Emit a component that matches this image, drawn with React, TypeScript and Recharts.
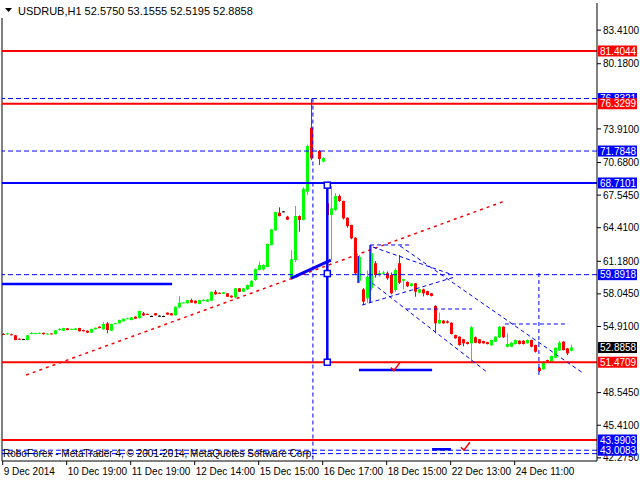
import React from 'react';
import { ComposedChart, Bar, XAxis, YAxis, ReferenceLine, ReferenceDot } from 'recharts';

// ---- candle data (bar index, open, high, low, close) ----
const barIndex = [
  0,1,2,3,4,5,6,7,8,9,10,11,12,13,14,15,16,17,18,19,20,21,22,23,24,25,26,27,28,29,30,31,32,33,34,35,36,37,38,39,
  40,41,42,43,44,45,46,47,48,49,50,51,52,53,54,55,56,57,58,59,60,61,62,63,64,65,66,67,68,69,70,71,72,73,74,75,76,77,
  79,80,81,82,83,84,85,86,87,88,89,90,91,92,93,94,95,96,97,98,99,100,101,102,103,104,105,106,107,108,109,110,111,112,
  113,114,115,116,117,118,119,120,121,122,123,124,125,126,127,128,129,130,131,132,133,134,135,136,137,138,139,140,141,142,
];
const opens = [
  54.20,54.15,54.16,54.06,53.73,53.70,53.61,54.22,54.22,54.22,54.30,54.18,54.24,54.16,54.60,54.50,54.73,54.63,54.58,54.76,
  54.57,54.50,54.31,54.64,54.89,54.64,55.21,54.50,55.18,55.21,55.40,55.62,55.53,55.85,55.70,56.18,56.12,55.92,56.18,55.95,
  55.92,56.24,56.18,55.98,56.75,57.18,57.14,57.45,57.39,57.07,57.40,57.30,57.39,58.25,58.15,58.05,58.10,57.87,57.71,58.58,
  58.25,58.48,58.73,59.38,60.34,60.40,60.63,62.74,64.16,65.85,65.98,65.47,59.64,61.30,65.53,65.15,67.87,74.03,
  71.79,70.76,66.76,65.63,66.11,67.46,66.98,65.37,64.67,63.44,59.30,58.48,57.62,58.58,60.99,59.95,60.00,60.03,59.86,58.42,
  60.99,59.30,59.20,58.80,59.06,58.16,58.48,58.31,58.10,56.88,55.21,55.47,55.40,55.27,
  54.09,53.93,53.68,53.40,53.29,53.87,53.68,53.51,53.40,53.10,53.45,53.87,54.89,52.96,52.96,53.22,53.54,53.54,53.29,53.61,
  53.13,50.95,50.79,51.68,51.52,51.90,52.60,53.45,52.80,52.575,
];
const highs = [
  54.26,54.30,54.22,54.10,53.76,53.72,54.10,54.38,54.30,54.33,54.32,54.26,54.27,54.56,54.76,54.78,54.76,54.70,54.75,54.78,
  54.60,54.53,54.70,54.82,54.92,55.34,55.34,55.18,55.26,55.56,55.68,55.73,55.82,55.88,56.42,56.30,56.14,55.94,56.20,55.97,
  55.94,56.26,56.20,56.84,57.84,57.25,57.48,57.58,57.41,57.48,57.55,57.53,58.28,58.42,58.18,58.23,58.12,57.90,58.62,58.60,
  58.62,58.95,59.35,60.50,61.15,60.90,62.90,64.30,65.95,66.37,66.00,65.55,62.26,66.50,65.60,68.30,72.40,76.8321,
  71.88,71.20,67.00,68.42,67.75,67.60,67.00,65.40,64.70,63.50,61.80,58.60,60.30,62.74,61.20,60.30,60.25,60.20,60.10,60.50,
  61.78,59.50,59.25,59.10,59.10,58.52,58.55,58.35,58.14,56.95,56.24,55.52,55.50,55.30,
  54.12,53.96,53.72,53.45,54.95,53.95,53.72,53.55,53.44,53.65,53.96,54.92,54.92,54.25,53.40,53.65,53.58,53.58,53.65,53.65,
  53.16,51.00,51.56,51.72,52.10,52.90,53.50,53.50,52.85,53.1555,
];
const lows = [
  54.12,54.10,54.05,53.58,53.64,53.68,53.58,54.15,54.18,54.20,54.12,54.14,54.17,54.14,54.50,54.48,54.55,54.60,54.55,54.43,
  54.42,54.28,54.29,54.60,54.73,54.57,54.25,54.48,55.15,55.18,55.38,55.60,55.50,55.63,55.68,55.92,56.04,55.90,55.96,55.93,
  55.90,56.03,55.96,55.96,56.66,57.15,57.12,57.18,57.12,57.05,57.35,57.28,57.37,57.95,58.02,58.02,57.75,57.68,57.60,58.22,
  58.22,58.40,58.70,59.30,60.30,60.30,60.60,62.70,64.10,65.50,65.96,65.15,59.60,61.10,64.02,65.10,67.55,70.90,
  70.44,70.70,65.50,61.30,66.00,66.90,65.20,64.40,63.30,59.90,59.10,56.97,57.20,58.40,59.60,59.70,59.85,59.40,58.00,58.20,
  59.00,58.48,58.70,58.75,57.77,58.10,57.80,57.90,57.80,54.25,55.15,55.18,55.20,54.15,
  53.74,53.05,53.00,53.18,51.45,53.30,53.26,53.26,53.18,53.05,53.40,53.80,53.80,52.90,52.92,53.18,53.18,53.18,53.25,52.90,
  52.40,50.53,50.75,51.48,51.48,51.85,52.55,52.60,52.15,52.5195,
];
const closes = [
  54.17,54.25,54.08,53.61,53.67,53.70,54.06,54.28,54.27,54.30,54.17,54.22,54.20,54.54,54.66,54.76,54.57,54.68,54.72,54.45,
  54.45,54.31,54.68,54.79,54.76,55.15,54.57,55.15,55.23,55.53,55.66,55.70,55.79,55.66,56.40,55.98,56.06,55.92,55.98,55.95,
  55.92,56.05,55.98,56.81,57.20,57.22,57.45,57.20,57.14,57.45,57.47,57.51,58.25,58.00,58.05,58.20,57.77,57.71,58.58,58.25,
  58.58,58.90,59.31,60.44,60.82,60.82,62.84,64.25,65.92,65.53,65.98,65.18,61.37,65.53,65.15,68.16,72.27,71.08,
  71.02,71.11,65.63,66.27,67.46,66.98,65.31,64.57,63.39,60.02,61.60,57.30,59.70,61.95,59.86,60.05,60.10,59.54,58.10,60.34,
  59.12,59.45,58.78,59.05,58.25,58.48,58.10,57.94,57.84,55.21,55.53,55.21,55.27,54.19,
  53.77,53.13,53.29,53.22,54.83,53.35,53.29,53.29,53.22,53.61,53.93,54.89,53.87,53.22,53.35,53.61,53.22,53.22,53.61,52.96,
  52.48,50.63,51.52,51.52,52.07,52.86,53.35,52.64,52.32,52.8858,
];

// ---- axes ----
const xDomain = [-0.425, 148.325];
const yDomain = [41.971, 86.021];
const xTickValues = [-0.25, 15.75, 31.75, 47.75, 63.75, 79.75, 95.75, 111.75, 127.75];
const xTickLabels = ['9 Dec 2014', '10 Dec 19:00', '11 Dec 19:00', '12 Dec 14:00', '15 Dec 15:00', '16 Dec 17:00', '18 Dec 15:00', '22 Dec 13:00', '24 Dec 11:00'];
const yTickValues = [83.41, 80.18, 73.91, 70.68, 67.545, 64.41, 61.18, 58.045, 54.91, 48.545, 45.41, 42.275];

// ---- price level labels on the right axis (drawn in this order) ----
const levelValues = [76.8321, 76.3299, 81.4044, 71.7848, 68.7101, 59.8918, 52.8858, 51.4709, 43.9903, 43.0083];
const levelColors = ['#0000ff', '#ff0000', '#ff0000', '#0000ff', '#0000ff', '#0000ff', '#000000', '#ff0000', '#0000ff', '#0000ff'];

// ---- horizontal levels ----
const redLevels = [81.4044, 76.3299, 51.4709, 43.9903];
const blueSolidLevels = [68.7101];
const blueDashedLevels = [76.8321, 71.7848, 59.8918, 43.0083, 42.68];

// ---- drawn objects, in (bar index, price) ----
const redTrend = [[5.6, 50.24], [125.3, 66.98]];
const blueLeftLevel = [[-0.425, 58.99], [42.1, 58.99]];
const blueRise = [[71.8, 59.54], [81.8, 61.30]];
const blueTarget = [[80.9, 68.5], [80.9, 51.4709]];
const targetSquares = [[80.9, 68.5], [80.9, 60.0], [80.9, 51.4709]];
const peakMarker = [[77.3, 76.8321], [77.3, 42.1]];
const dashedSegments = [
  [[91.6, 62.75], [102.1, 62.75]],
  [[92.3, 62.55], [111.6, 59.96]],
  [[89.6, 56.97], [112.8, 59.67]],
  [[99.1, 62.65], [144.8, 50.43]],
  [[92.1, 59.09], [120.8, 50.53]],
  [[100.6, 56.59], [117.1, 56.59]],
  [[125.3, 55.15], [141.1, 55.15]],
  [[133.8, 50.24], [133.8, 60.05]],
];
const blueBrackets = [
  [[88.6, 59.09], [88.6, 61.69]],
  [[91.6, 57.17], [91.6, 62.75]],
];
const blueTargetShort = [[88.8, 50.72], [107.1, 50.72]];
const blueTargetLow = [[107.1, 43.1], [111.8, 43.1]];
const checkMarks = [[97.8, 50.95], [115.3, 43.3]];

const candles = barIndex.map((i, k) => ({ i, o: opens[k], h: highs[k], l: lows[k], c: closes[k] }));

const FONT = '"Liberation Sans", Arial, sans-serif';

const Candle = (props: any) => {
  const { x, y, width, height, payload } = props;
  if (payload == null) return null;
  const { o, h, l, c } = payload;
  const top = Math.min(y, y + height);
  const hh = Math.abs(height);
  const per = h - l > 0 ? hh / (h - l) : 0;
  const yO = top + (h - o) * per;
  const yC = top + (h - c) * per;
  const color = c > o ? '#00ff00' : c < o ? '#ff0000' : '#000000';
  const cx = Math.round(x + width / 2);
  const bTop = Math.min(yO, yC);
  const bH = Math.max(1, Math.abs(yC - yO));
  return (
    <g>
      <rect x={cx} y={top} width={1} height={Math.max(1, hh)} fill={color} />
      <rect x={cx - 1} y={bTop} width={3} height={bH} fill={color} />
    </g>
  );
};

const YTick = (props: any) => {
  const { x, y, payload } = props;
  const v = payload.value as number;
  const li = levelValues.indexOf(v);
  if (li >= 0) {
    return (
      <g>
        <rect x={x + 1} y={y - 5.5} width={39} height={11} fill={levelColors[li]} />
        <text x={x + 3} y={y} dy="0.36em" fill="#ffffff" fontSize={10} fontFamily={FONT}>{v.toFixed(4)}</text>
      </g>
    );
  }
  return (
    <g>
      <line x1={x} x2={x + 4} y1={y} y2={y} stroke="#000" />
      <text x={x + 6} y={y} dy="0.36em" fill="#000" fontSize={10} fontFamily={FONT}>{v.toFixed(4)}</text>
    </g>
  );
};

const XTick = (props: any) => {
  const { x, y, payload } = props;
  const k = xTickValues.indexOf(payload.value);
  return (
    <g>
      <line x1={x} x2={x} y1={y} y2={y + 4} stroke="#000" />
      <text x={x + 1} y={y + 14} fill="#000" fontSize={10} fontFamily={FONT}>{k >= 0 ? xTickLabels[k] : ''}</text>
    </g>
  );
};

const Square = (props: any) => {
  const { cx, cy } = props;
  return <rect x={cx - 3} y={cy - 3} width={6} height={6} fill="#ffffff" stroke="#0000ff" strokeWidth={1.5} />;
};

const Check = (props: any) => {
  const { cx, cy } = props;
  return <path d={`M${cx - 4},${cy} L${cx - 1},${cy + 3} L${cx + 5},${cy - 5}`} fill="none" stroke="#ff0000" strokeWidth={1.5} />;
};

const seg = (s: number[][]) => [{ x: s[0][0], y: s[0][1] }, { x: s[1][0], y: s[1][1] }];

export default function App() {
  return (
    <div style={{ position: 'absolute', left: 0, top: 0, width: 640, height: 480, background: '#fff' }}>
      <ComposedChart width={640} height={480} data={candles} margin={{ top: 3, right: 0, bottom: 0, left: 2 }}>
        <XAxis
          dataKey="i"
          type="number"
          domain={xDomain}
          allowDataOverflow
          ticks={xTickValues}
          interval={0}
          height={19}
          tickSize={0}
          tickMargin={0}
          tickLine={false}
          axisLine={{ stroke: '#000' }}
          tick={<XTick />}
        />
        <YAxis
          orientation="right"
          type="number"
          domain={yDomain}
          allowDataOverflow
          ticks={[...yTickValues, ...levelValues]}
          interval={0}
          width={43}
          tickSize={0}
          tickMargin={0}
          tickLine={false}
          axisLine={{ stroke: '#000' }}
          tick={<YTick />}
        />
        <ReferenceLine x={xDomain[0]} stroke="#000" ifOverflow="visible" />
        <Bar dataKey={(d: any) => [d.l, d.h]} barSize={3} shape={<Candle />} isAnimationActive={false} />

        {blueDashedLevels.map((v) => (
          <ReferenceLine key={'bd' + v} y={v} stroke="#0000ff" strokeDasharray="5 3" />
        ))}
        {redLevels.map((v) => (
          <ReferenceLine key={'r' + v} y={v} stroke="#ff0000" strokeWidth={2} />
        ))}
        {blueSolidLevels.map((v) => (
          <ReferenceLine key={'bs' + v} y={v} stroke="#0000ff" strokeWidth={2} />
        ))}
        <ReferenceLine segment={seg(redTrend)} stroke="#ff0000" strokeWidth={1.5} strokeDasharray="3 4" />
        <ReferenceLine segment={seg(blueLeftLevel)} stroke="#0000ff" strokeWidth={2.5} />
        {dashedSegments.map((s, k) => (
          <ReferenceLine key={'ds' + k} segment={seg(s)} stroke="#0000ff" strokeDasharray="4 3" />
        ))}
        {blueBrackets.map((s, k) => (
          <ReferenceLine key={'bb' + k} segment={seg(s)} stroke="#0000ff" strokeWidth={1.5} />
        ))}
        <ReferenceLine segment={seg(peakMarker)} stroke="#0000ff" strokeDasharray="4 3" />
        <ReferenceLine segment={seg(blueRise)} stroke="#0000ff" strokeWidth={3} />
        <ReferenceLine segment={seg(blueTarget)} stroke="#0000ff" strokeWidth={2.5} />
        <ReferenceLine segment={seg(blueTargetShort)} stroke="#0000ff" strokeWidth={2.5} />
        <ReferenceLine segment={seg(blueTargetLow)} stroke="#0000ff" strokeWidth={2.5} />
        {targetSquares.map((p, k) => (
          <ReferenceDot key={'sq' + k} x={p[0]} y={p[1]} r={3} shape={<Square />} />
        ))}
        {checkMarks.map((p, k) => (
          <ReferenceDot key={'ck' + k} x={p[0]} y={p[1]} r={3} shape={<Check />} />
        ))}
      </ComposedChart>
      <svg width={640} height={480} style={{ position: 'absolute', left: 0, top: 0, pointerEvents: 'none' }}>
        <rect x={0} y={0} width={222} height={18} fill="#ffffff" />
        <polygon points="5,8 12,8 8.5,12" fill="#000" />
        <text x={18} y={15} fontSize={11} fontFamily={FONT} fill="#000">USDRUB,H1  52.5750 53.1555 52.5195 52.8858</text>
        <text x={3} y={457} fontSize={10} fontFamily={FONT} fill="#000">RoboForex - MetaTrader 4, © 2001-2014, MetaQuotes Software Corp.</text>
      </svg>
    </div>
  );
}
